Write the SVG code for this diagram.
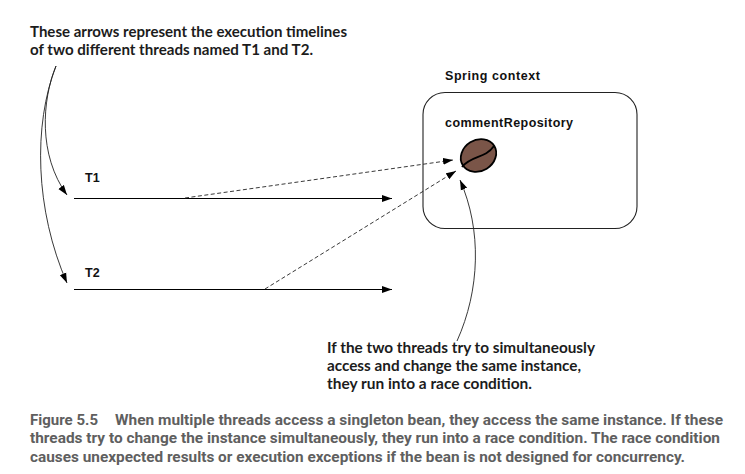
<svg xmlns="http://www.w3.org/2000/svg" width="745" height="474" viewBox="0 0 745 474">
<style>
.call{font:bold 15.800px "Lato","Open Sans",sans-serif;fill:#1c1c1c}
.lab{font:bold 12.5px "Liberation Sans",Arial,sans-serif;fill:#111}
.cap{font:bold 15.5px "Roboto","Liberation Sans",sans-serif;fill:#5f5f5f}
.solid{fill:none;stroke:#000;stroke-width:1.2}
.thin{fill:none;stroke:#222;stroke-width:.9}
.dash{fill:none;stroke:#222;stroke-width:.9;stroke-dasharray:4 2.5}
</style>
<defs>
<marker id="a" markerUnits="userSpaceOnUse" markerWidth="12" markerHeight="8" refX="10" refY="4" orient="auto"><path d="M0 0.6L10 4L0 7.4z" fill="#000"/></marker>
</defs>
<rect width="745" height="474" fill="#fff"/>
<g id="callout-threads"><text class="call" x="30" y="37" textLength="317" lengthAdjust="spacingAndGlyphs">These arrows represent the execution timelines</text><text class="call" x="30" y="55" textLength="283" lengthAdjust="spacingAndGlyphs">of two different threads named T1 and T2.</text></g>
<g id="spring-context"><text class="lab" x="445" y="79.500" textLength="95">Spring context</text><rect x="423" y="92.500" width="214" height="136" rx="22" fill="#fff" stroke="#222" stroke-width="1.1"/></g>
<g id="comment-repository"><text class="lab" x="445" y="127" textLength="128">commentRepository</text>
<ellipse cx="478.500" cy="155.500" rx="18.500" ry="15.500" transform="rotate(-32 478.500 155.500)" fill="#7a5548" stroke="#000" stroke-width="1.800"/>
<path d="M462 167C471 155 485 159 494 146" fill="none" stroke="#000" stroke-width="1.800"/></g>
<g id="t1"><text class="lab" x="85" y="181.500">T1</text></g>
<g id="t2"><text class="lab" x="85" y="276.500">T2</text></g>
<g id="connectors">
<path class="solid" d="M74 198.500H392" marker-end="url(#a)"/>
<path class="solid" d="M74 289.500H392" marker-end="url(#a)"/>
<path class="dash" d="M185 198L453 160" marker-end="url(#a)"/>
<path class="dash" d="M265 289L456 171" marker-end="url(#a)"/>
<path class="thin" d="M457 341C480 290 482 230 460 180" marker-end="url(#a)"/>
<path class="thin" d="M56 66C42 100 38 155 67 195" marker-end="url(#a)"/>
<path class="thin" d="M56 66C33 125 35 210 67 283" marker-end="url(#a)"/>
</g>
<g id="callout-race"><text class="call" x="327" y="352.500" textLength="268" lengthAdjust="spacingAndGlyphs">If the two threads try to simultaneously</text><text class="call" x="327" y="370.500" textLength="254" lengthAdjust="spacingAndGlyphs">access and change the same instance,</text><text class="call" x="327" y="388.500" textLength="205" lengthAdjust="spacingAndGlyphs">they run into a race condition.</text></g>
<g id="caption"><text class="cap" x="30" y="424.500" textLength="68" lengthAdjust="spacingAndGlyphs">Figure 5.5</text><text class="cap" x="115" y="424.500" textLength="608" lengthAdjust="spacingAndGlyphs">When multiple threads access a singleton bean, they access the same instance. If these</text><text class="cap" x="30" y="443" textLength="690" lengthAdjust="spacingAndGlyphs">threads try to change the instance simultaneously, they run into a race condition. The race condition</text><text class="cap" x="30" y="461.500" textLength="655" lengthAdjust="spacingAndGlyphs">causes unexpected results or execution exceptions if the bean is not designed for concurrency.</text></g>
</svg>
